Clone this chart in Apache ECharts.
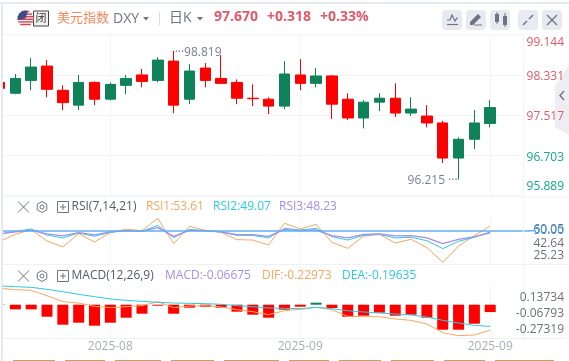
<!DOCTYPE html>
<html>
<head>
<meta charset="utf-8">
<style>
html,body{margin:0;padding:0;background:#fff;}
#chart1{width:569px;height:361px;}
</style>
<script src="https://cdn.jsdelivr.net/npm/echarts@6/dist/echarts.min.js"></script>
</head>
<body>
<div id="chart1"></div>
<script>
let chart1 = echarts.init(document.getElementById("chart1"));

// two empty slots on the right keep the last candle off the price scale
let categories = ['','','','','','','','2025-08','','','','','','','','','','','','2025-09','','','','','','','','','','','','2025-09','',''];
// open, close, low, high
let candles = [
    [98.18,98.06,98.03,98.22],[97.96,98.26,97.94,98.35],[98.22,98.49,98.02,98.67],[98.51,98.04,97.88,98.63],
    [98.02,97.77,97.62,98.12],[97.72,98.18,97.62,98.33],[98.18,97.84,97.72,98.20],[97.84,98.14,97.81,98.18],
    [98.12,98.26,97.94,98.33],[98.33,98.20,98.08,98.45],[98.22,98.63,98.18,98.69],[98.61,97.72,97.56,98.819],
    [97.84,98.41,97.74,98.55],[98.47,98.22,98.08,98.57],[98.26,98.16,98.16,98.73],[98.18,97.86,97.74,98.24],
    [97.86,97.85,97.70,98.14],[97.84,97.70,97.54,97.88],[97.70,98.35,97.64,98.61],[98.33,98.16,98.02,98.65],
    [98.16,98.31,98.08,98.47],[98.31,97.74,97.44,98.33],[97.84,97.46,97.42,97.96],[97.46,97.78,97.25,97.82],
    [97.78,97.86,97.60,97.96],[97.86,97.56,97.48,98.16],[97.56,97.64,97.50,97.88],[97.50,97.36,97.27,97.72],
    [97.36,96.65,96.55,97.40],[96.65,97.03,96.215,97.07],[97.03,97.36,96.83,97.62],[97.35,97.67,97.27,97.82]
];
let rsi1 = [41.6,47.2,50.8,42.1,37.5,47.7,41.3,48.5,51.1,50,59.5,40,53.4,50.3,48.7,43.1,42.8,39,55.7,51.3,54.9,41.1,36.4,45.7,47.2,40.5,43.4,37,25.7,38.2,46.2,53.61];
let rsi2 = [47.5,49.3,51.3,46.7,44.4,48.2,45.7,48.7,50,49.5,54.1,44.6,51,50,49,46.4,46.4,44.4,51.8,50.5,51.8,45.4,42.8,46.4,47.2,44.4,44.9,42.3,36.2,41.8,44.9,49.07];
let rsi3 = [47.5,49,50.3,47.5,46,48.5,46.7,49,50,49.5,52.3,45.6,50.3,49.8,49,47,47,45.6,51,50,50.5,46.2,44.4,47.2,47.5,46,46.2,44.4,40,43.3,45.4,48.23];
let dif = [.1478,.1358,.1297,.0816,.0274,.0154,-.0147,-.0268,-.0178,-.0087,.0274,-.0268,-.0117,-.0087,-.0208,-.0448,-.0629,-.09,-.0539,-.0418,-.0238,-.0448,-.105,-.1081,-.1081,-.1291,-.1412,-.1743,-.2525,-.2796,-.2736,-.22973];
let dea = [.1689,.1628,.1568,.1388,.1177,.0936,.0725,.0515,.0394,.0304,.0214,.0154,.0123,.0093,.0033,-.0087,-.0178,-.0298,-.0328,-.0358,-.0238,-.0358,-.0539,-.0659,-.075,-.084,-.093,-.1111,-.1412,-.1652,-.1863,-.19635];
let macd = [.003,-.0421,-.0421,-.1084,-.1806,-.1625,-.1896,-.1625,-.1174,-.0813,-.009,-.0813,-.0271,-.0181,-.0271,-.0632,-.0903,-.1174,-.0452,-.0181,.0181,-.0301,-.1084,-.0993,-.0722,-.0993,-.0903,-.1174,-.2258,-.2258,-.1716,-.06675];
let priceMin = 95.889;
let priceMax = 99.144;

let font = '"Open Sans","Noto Sans CJK SC",sans-serif';
let upColor = '#108259';
let downColor = '#ff0000';
let redText = '#e2586b';
let greenText = '#14a98a';
let gridColor = '#f3f4f8';
let orange = '#f9a55f';
let cyan = '#2fc9de';
let purple = '#a68ee8';
let iconColor = '#6f7482';

function text(x, y, str, color, size, weight, align) {
    return {type:'text', x:x, y:y, z:20, silent:true, style:{
        text:str, fill:color, font:(weight||'normal')+' '+(size||12)+'px '+font,
        textAlign:align||'left', textVerticalAlign:'middle'
    }};
}
function rect(x, y, w, h, color, r) {
    return {type:'rect', z:18, silent:true, shape:{x:x,y:y,width:w,height:h,r:r||0}, style:{fill:color}};
}
function line(points, color, width) {
    return {type:'polyline', z:21, silent:true, shape:{points:points}, style:{stroke:color,fill:null,lineWidth:width||1}};
}
function triangle(x, y) {
    return {type:'polygon', z:20, silent:true, shape:{points:[[x,y],[x+6,y],[x+3,y+3.5]]}, style:{fill:'#6f7482'}};
}

function flag(cx, cy, r) {
    let list = [{type:'circle', z:19, silent:true, shape:{cx:cx,cy:cy,r:r}, style:{fill:'#f4f4f6'}}];
    for (let dy = -7; dy <= 7; dy += 2.6) {
        let half = Math.sqrt(r*r - dy*dy);
        list.push(line([[cx-half,cy+dy],[cx+half,cy+dy]], '#d8454f', 1.4));
    }
    list.push({type:'sector', z:22, silent:true, shape:{cx:cx,cy:cy,r:r,r0:0,startAngle:Math.PI*0.93,endAngle:Math.PI*1.6}, style:{fill:'#3f4c8c'}});
    return list;
}

function panelIcons(y) {
    let hex = [];
    for (let k = 0; k < 6; k++) {
        let a = Math.PI/3*k + Math.PI/6;
        hex.push([42 + 5.5*Math.cos(a), y + 5.5*Math.sin(a)]);
    }
    hex.push(hex[0]);
    return [
        line([[18,y-5.5],[29,y+5.5]], iconColor, 1),
        line([[29,y-5.5],[18,y+5.5]], iconColor, 1),
        line(hex, iconColor, 1),
        {type:'circle', z:21, silent:true, shape:{cx:42,cy:y,r:2}, style:{stroke:iconColor,fill:null,lineWidth:1}},
        {type:'rect', z:21, silent:true, shape:{x:57.5,y:y-5.5,width:11,height:11}, style:{stroke:iconColor,fill:null,lineWidth:1}},
        line([[60,y],[66,y]], iconColor, 1),
        line([[63,y-3],[63,y+3]], iconColor, 1)
    ];
}

let tabs = [[13,55],[65,105],[115,161],[171,214],[224,279],[289,329],[339,381],[391,434],[444,485],[495,554]];

let graphic = [
    rect(0, 0, 1, 361, '#ffffff'),
    rect(1, 3, 2, 358, '#e6e9f0'),
    rect(0, 2, 569, 2, '#e6e9f0'),
    rect(524, 30, 45, 166, '#ffffff'),
    rect(3, 34.5, 521, 1, '#f5f6f9'),
    rect(3, 196.5, 566, 1, '#f0f1f5'),
    rect(3, 264, 566, 1, '#f0f1f5'),
    rect(3, 338, 563, 1, '#f0f1f5'),
    rect(523, 34, 1, 304, '#f3f4f8'),
    rect(529, 230, 5, 1.5, '#62aef0'),
    {type:'polygon', z:19, silent:true, shape:{points:[[569,65],[555,86],[555,127],[569,135]]}, style:{fill:'#e9ebf2',opacity:0.85}},
    line([[564,91],[560,95.5],[564,100]], iconColor, 1.4),

    text(57, 18, '美元指数', '#f5875c', 13),
    text(113, 19, 'DXY', iconColor, 14),
    triangle(143, 17),
    rect(159, 12, 1, 13, '#d9dce4'),
    text(169, 18, '日K', iconColor, 14),
    triangle(197, 17),
    text(214, 17.5, '97.670', redText, 14, 'bold'),
    text(267, 17.5, '+0.318', redText, 14, 'bold'),
    text(320, 17.5, '+0.33%', redText, 14, 'bold'),

    rect(33.5, 11, 15, 15, '#f2f2f2'),
    {type:'rect', z:19, silent:true, shape:{x:33.5,y:11,width:15,height:15}, style:{stroke:'#444',fill:null,lineWidth:1}},
    text(41, 18.5, '闭', '#333', 11, 'normal', 'center'),

    rect(442, 10, 20, 20, '#e7eaf1', 4),
    rect(466, 10, 20, 20, '#e7eaf1', 4),
    rect(490, 10, 20, 20, '#e7eaf1', 4),
    rect(518, 10, 20, 20, '#e7eaf1', 4),
    rect(542, 10, 20, 20, '#e7eaf1', 4),
    line([[447,20],[450,20],[452,15],[455,21],[457,18],[458,18]], iconColor, 1.2),
    line([[447,24.5],[458,24.5]], iconColor, 1.2),
    {type:'polygon', z:21, silent:true, shape:{points:[[470,22],[478,14],[481,17],[473,25],[470,25]]}, style:{fill:iconColor}},
    rect(474, 24.5, 8, 1, iconColor),
    rect(495, 14, 4, 8, iconColor),
    rect(503, 16, 4, 9, iconColor),
    line([[497,12],[497,24]], iconColor, 1),
    line([[505,13],[505,27]], iconColor, 1),
    line([[523,25],[527,21]], iconColor, 1.5),
    line([[529,19],[533,15]], iconColor, 1.5),
    line([[547,15],[557,25]], iconColor, 1.2),
    line([[557,15],[547,25]], iconColor, 1.2),

    text(71.5, 207, 'RSI(7,14,21)', '#555a68', 12),
    text(146, 207, 'RSI1:53.61', orange, 12),
    text(213, 207, 'RSI2:49.07', cyan, 12),
    text(279, 207, 'RSI3:48.23', purple, 12),
    text(71.5, 276, 'MACD(12,26,9)', '#555a68', 12),
    text(165, 276, 'MACD:-0.06675', purple, 12),
    text(262, 276, 'DIF:-0.22973', orange, 12),
    text(342, 276, 'DEA:-0.19635', cyan, 12),

    text(564, 42.3, '99.144', redText, 12, 'normal', 'right'),
    text(564, 76.7, '98.331', redText, 12, 'normal', 'right'),
    text(564, 116.7, '97.517', redText, 12, 'normal', 'right'),
    text(564, 157.3, '96.703', greenText, 12, 'normal', 'right'),
    text(564, 186.7, '95.889', greenText, 12, 'normal', 'right'),

    text(564, 229.5, '60.05', '#6b7080', 12, 'normal', 'right'),
    text(564, 231, '50.00', '#3d9be9', 12, 'normal', 'right'),
    text(564, 243.5, '42.64', '#6b7080', 12, 'normal', 'right'),
    text(564, 256, '25.23', '#6b7080', 12, 'normal', 'right'),
    text(564, 297.7, '0.13734', '#6b7080', 12, 'normal', 'right'),
    text(564, 313.7, '-0.06793', '#6b7080', 12, 'normal', 'right'),
    text(564, 329.5, '-0.27319', '#6b7080', 12, 'normal', 'right')
];
graphic = graphic.concat(flag(25.5, 18.5, 8), panelIcons(207), panelIcons(276));
tabs.forEach(function (t) {
    graphic.push(rect(t[0], 360, t[1]-t[0], 1, '#c9a063'));
});

function isLabelled(index) {
    return categories[index] !== '';
}

function xAxis(gridIndex, showLabel) {
    return {
        type:'category', gridIndex:gridIndex, data:categories,
        axisLine:{show:false}, axisTick:{show:false},
        axisLabel:{show:showLabel, interval:0, margin:3, color:'#a9adbb', fontSize:12, fontFamily:font, hideOverlap:false},
        splitLine:{show:true, alignWithLabel:true, interval:isLabelled, lineStyle:{color:gridColor,width:1}}
    };
}

function lineSeries(name, data, color, axis, width) {
    return {
        name:name, type:'line', data:data, xAxisIndex:axis, yAxisIndex:axis,
        symbol:'none', silent:true, animation:false, lineStyle:{color:color,width:width||1}
    };
}

let option = {
    animation:false,
    backgroundColor:'#ffffff',
    graphic:graphic,
    grid:[
        {left:-8.4, top:34.7, width:538.2, height:161, outerBoundsMode:'none'},
        {left:-8.4, top:217.6, width:538.2, height:45.3, outerBoundsMode:'none'},
        {left:-8.4, top:285, width:538.2, height:53, outerBoundsMode:'none'}
    ],
    xAxis:[xAxis(0,false), xAxis(1,false), xAxis(2,true)],
    yAxis:[
        {
            type:'value', gridIndex:0, position:'right', min:priceMin, max:priceMax, interval:(priceMax-priceMin)/4,
            axisLine:{show:false}, axisTick:{show:false}, axisLabel:{show:false},
            splitLine:{lineStyle:{color:gridColor,width:1}}
        },
        {type:'value', gridIndex:1, position:'right', min:25.23, max:60.05, show:false},
        {type:'value', gridIndex:2, position:'right', min:-0.3007, max:0.1779, show:false}
    ],
    series:[
        {
            name:'DXY', type:'candlestick', data:candles, xAxisIndex:0, yAxisIndex:0, barWidth:11, silent:true,
            itemStyle:{color:upColor, color0:downColor, borderColor:upColor, borderColor0:downColor, borderWidth:1},
            markPoint:{
                symbol:'circle', symbolSize:0, silent:true, animation:false,
                label:{show:true, fontSize:12, fontFamily:font, color:'#7b8090', distance:1},
                data:[
                    {coord:[11,98.819], value:98.819, label:{position:'right', offset:[0,1.5], formatter:'···98.819'}},
                    {coord:[29,96.215], value:96.215, label:{position:'left', offset:[0,1.5], formatter:'96.215 ···'}}
                ]
            }
        },
        lineSeries('RSI1', rsi1, orange, 1),
        lineSeries('RSI2', rsi2, cyan, 1),
        lineSeries('RSI3', rsi3, purple, 1, 1.3),
        {
            name:'RSI50', type:'line', data:[], xAxisIndex:1, yAxisIndex:1,
            markLine:{symbol:'none', silent:true, animation:false, label:{show:false}, lineStyle:{color:'#62aef0',width:1.5,type:'solid'}, data:[{yAxis:50}]}
        },
        {
            name:'MACD', type:'bar', data:macd, xAxisIndex:2, yAxisIndex:2, barWidth:11, silent:true,
            itemStyle:{color:function (p) { return p.value >= 0 ? upColor : downColor; }}
        },
        lineSeries('DIF', dif, orange, 2),
        lineSeries('DEA', dea, cyan, 2)
    ]
};
chart1.setOption(option);
</script>
</body>
</html>
